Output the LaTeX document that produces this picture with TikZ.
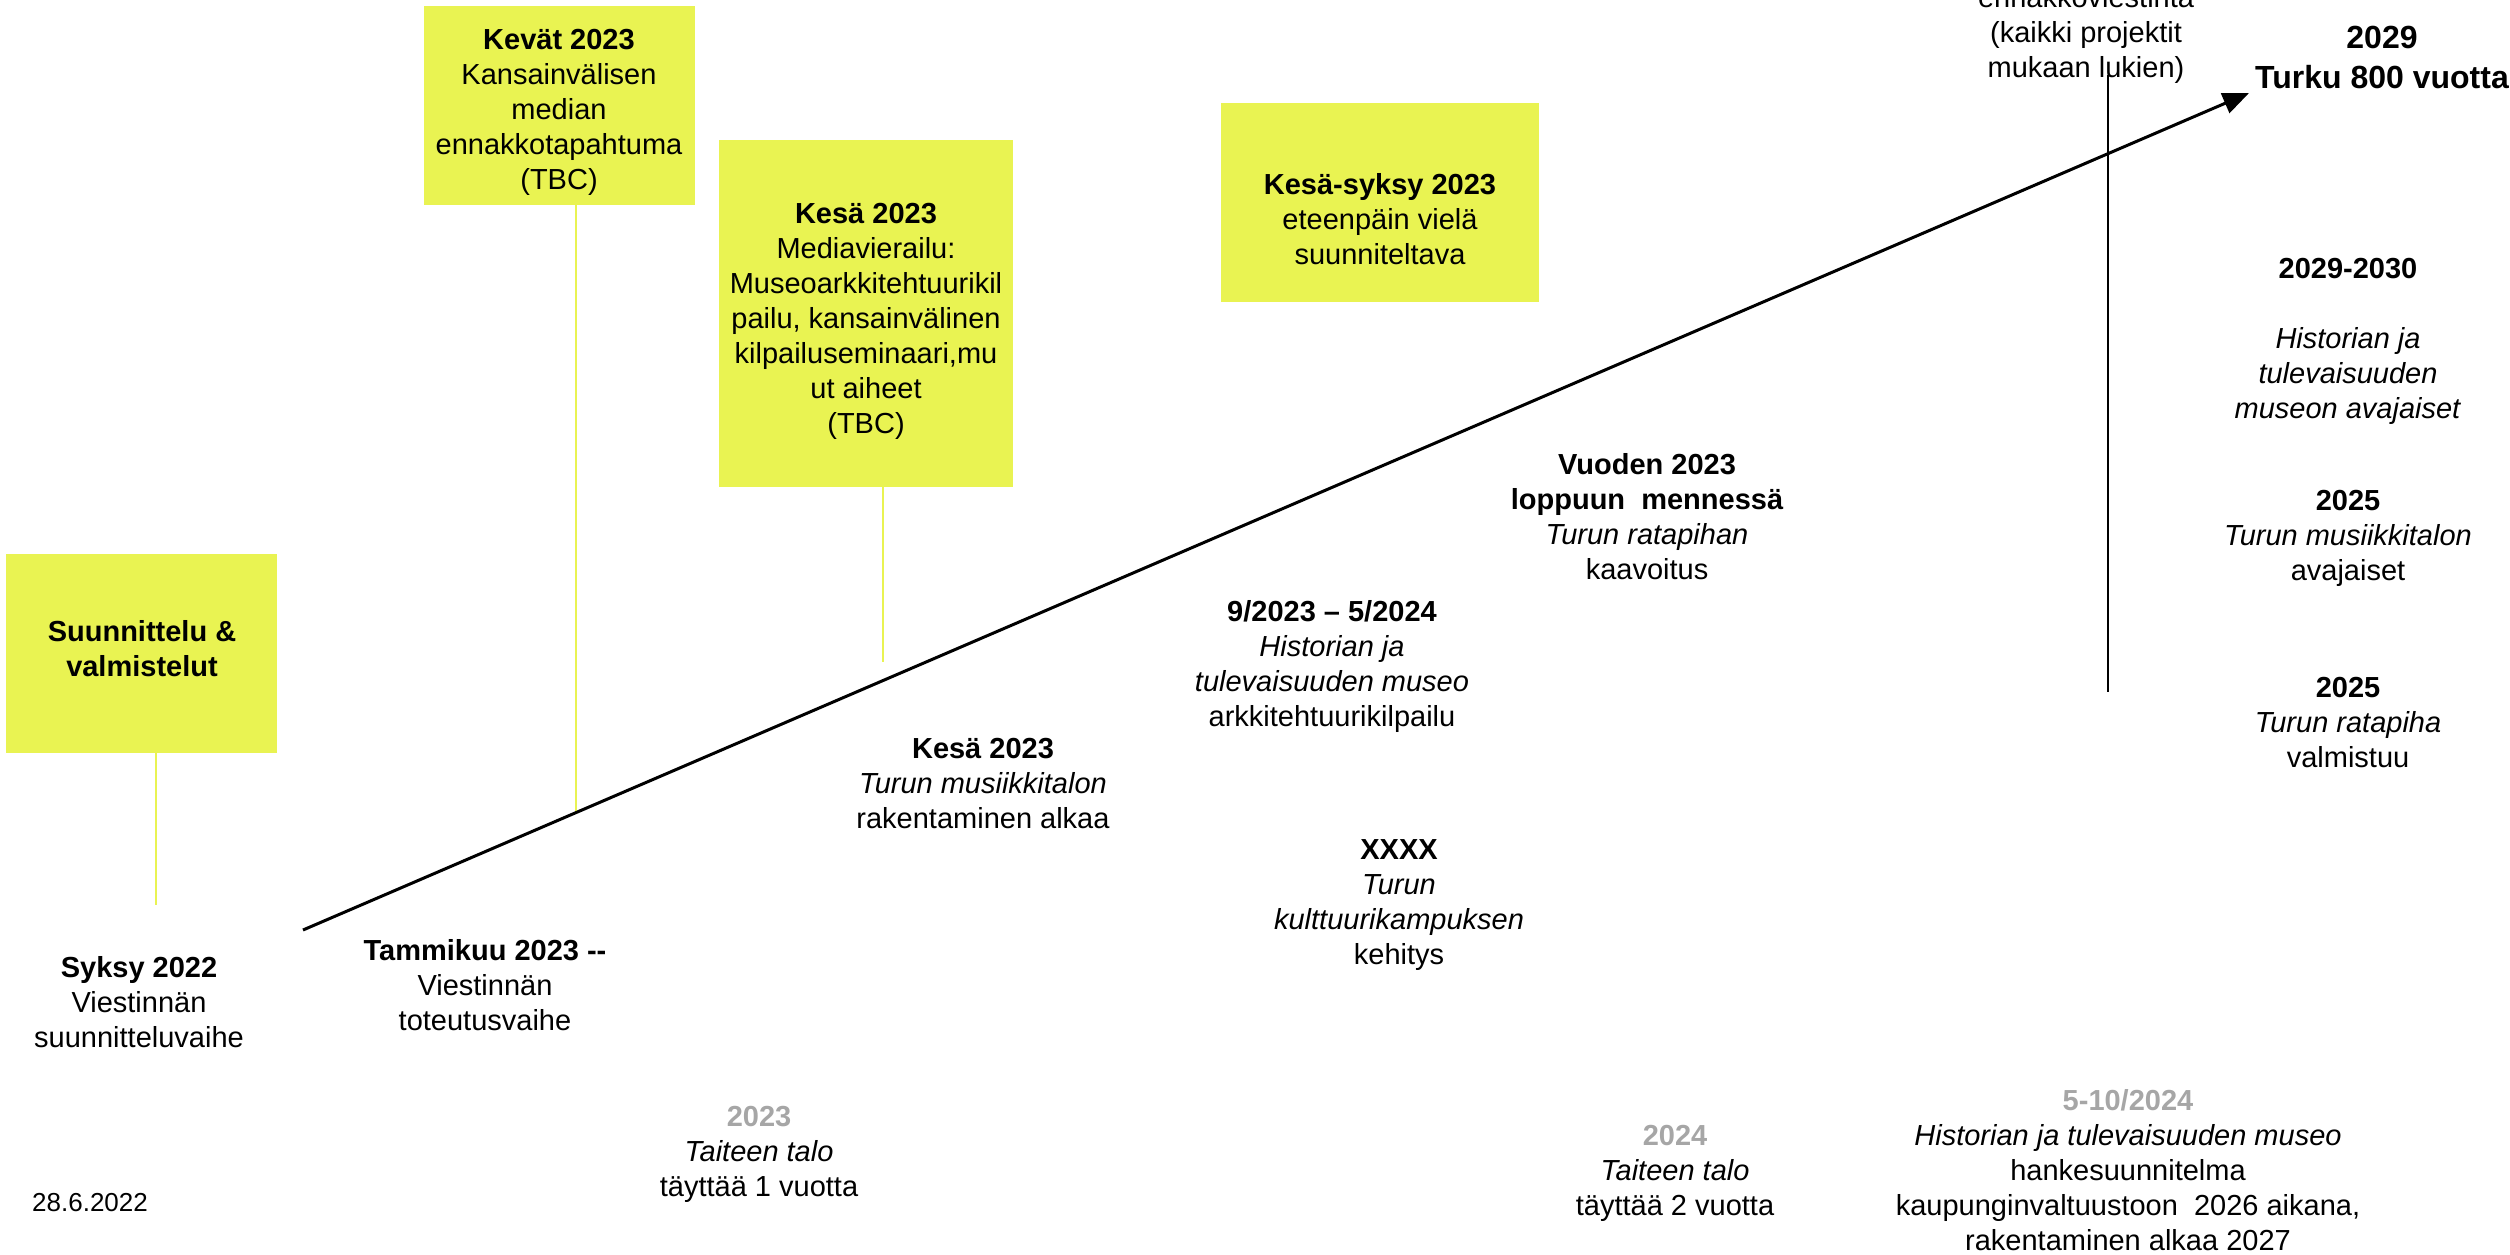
\documentclass[tikz,border=0pt]{standalone}
\usepackage{fontspec}
\setmainfont{Liberation Sans}
\usetikzlibrary{arrows.meta}
\definecolor{ylw}{RGB}{233,243,82}
\definecolor{gry}{RGB}{166,166,166}
\begin{document}
\begin{tikzpicture}[x=1pt,y=-1pt,
  txt/.style={align=center, inner sep=0pt, font=\fontsize{29}{35}\selectfont},
  ybox/.style={fill=ylw, draw=none, inner sep=0pt},
  tline/.style={draw=ylw, line width=1.5pt},
  mainarrow/.style={line width=3pt, -{Triangle[length=26pt,width=21pt]}},
  vline/.style={line width=2.5pt}]
\useasboundingbox (0,0) rectangle (2510,1254);
% boxes
\node[ybox, minimum width=271pt, minimum height=199pt] (kevatbox) at (559.5,105.5) {};
\node[ybox, minimum width=294pt, minimum height=347pt] (kesabox) at (865.5,313.5) {};
\node[ybox, minimum width=318pt, minimum height=199pt] (kesasyksybox) at (1380,202) {};
\node[ybox, minimum width=271pt, minimum height=199pt] (suunnbox) at (141.5,653.5) {};
% free ends
\coordinate (astart) at (303,930);
\coordinate (aend) at (2249,93);
\coordinate (vtop) at (2108,75);
\coordinate (vbot) at (2108,692);
\coordinate (kevatend) at (576,814);
\coordinate (kesaend) at (883,662);
\coordinate (suunnend) at (156,905);
% connectors
\draw[tline] (kevatbox.south -| kevatend) -- (kevatend);
\draw[tline] (kesabox.south -| kesaend) -- (kesaend);
\draw[tline] (suunnbox.south -| suunnend) -- (suunnend);
\draw[mainarrow] (astart) -- (aend);
\draw[vline] (vtop) -- (vbot);
% box texts
\node[txt] (kevat) at (559,112) {\textbf{Kevät 2023}\\Kansainvälisen\\median\\ennakkotapahtuma\\(TBC)};
\node[txt] (kesa) at (866,321) {\textbf{Kesä 2023}\\Mediavierailu:\\Museoarkkitehtuurikil\\pailu, kansainvälinen\\kilpailuseminaari,mu\\ut aiheet\\(TBC)};
\node[txt] (kesasyksy) at (1380,219) {\textbf{Kesä-syksy 2023}\\eteenpäin vielä\\suunniteltava};
\node[txt] (suunn) at (142,649) {\textbf{Suunnittelu \&}\\\textbf{valmistelut}};
% timeline texts
\node[txt] (syksy) at (139,1002) {\textbf{Syksy 2022}\\Viestinnän\\suunnitteluvaihe};
\node[txt] (tammi) at (485,985) {\textbf{Tammikuu 2023 -{}-}\\Viestinnän\\toteutusvaihe};
\node[txt] (musa) at (983,784) {\textbf{Kesä 2023}\\\textit{Turun musiikkitalon}\\rakentaminen alkaa};
\node[txt] (kilp) at (1332,666) {\textbf{9/2023 – 5/2024}\\\textit{Historian ja}\\\textit{tulevaisuuden museo}\\arkkitehtuurikilpailu};
\node[txt] (vuoden) at (1647,517) {\textbf{Vuoden 2023}\\\textbf{loppuun\ \ mennessä}\\\textit{Turun ratapihan}\\kaavoitus};
\node[txt] (xxxx) at (1399,905) {\textbf{XXXX}\\\textit{Turun}\\\textit{kulttuurikampuksen}\\kehitys};
\node[txt] (avaj) at (2348,341) {\textbf{2029-2030}\\[35pt]\textit{Historian ja}\\\textit{tulevaisuuden}\\\textit{museon avajaiset}};
\node[txt] (musav) at (2348,538) {\textbf{2025}\\\textit{Turun musiikkitalon}\\avajaiset};
\node[txt] (rata) at (2348,723) {\textbf{2025}\\\textit{Turun ratapiha}\\valmistuu};
\node[txt] (tt1) at (759,1154) {\textcolor{gry}{\textbf{2023}}\\\textit{Taiteen talo}\\täyttää 1 vuotta};
\node[txt] (tt2) at (1675,1173) {\textcolor{gry}{\textbf{2024}}\\\textit{Taiteen talo}\\täyttää 2 vuotta};
\node[txt] (hanke) at (2128,1170) {\textcolor{gry}{\textbf{5-10/2024}}\\\textit{Historian ja tulevaisuuden museo}\\hankesuunnitelma\\kaupunginvaltuustoon\ \ 2026 aikana,\\rakentaminen alkaa 2027};
\node[txt, anchor=west, font=\fontsize{26}{31}\selectfont] (date) at (32,1203) {28.6.2022};
\node[txt] (ennakko) at (2086,35) {ennakkoviestintä\\(kaikki projektit\\mukaan lukien)};
\node[txt, font=\fontsize{32}{40}\selectfont\bfseries] (turku) at (2382,57) {2029\\Turku 800 vuotta};
\end{tikzpicture}
\end{document}
